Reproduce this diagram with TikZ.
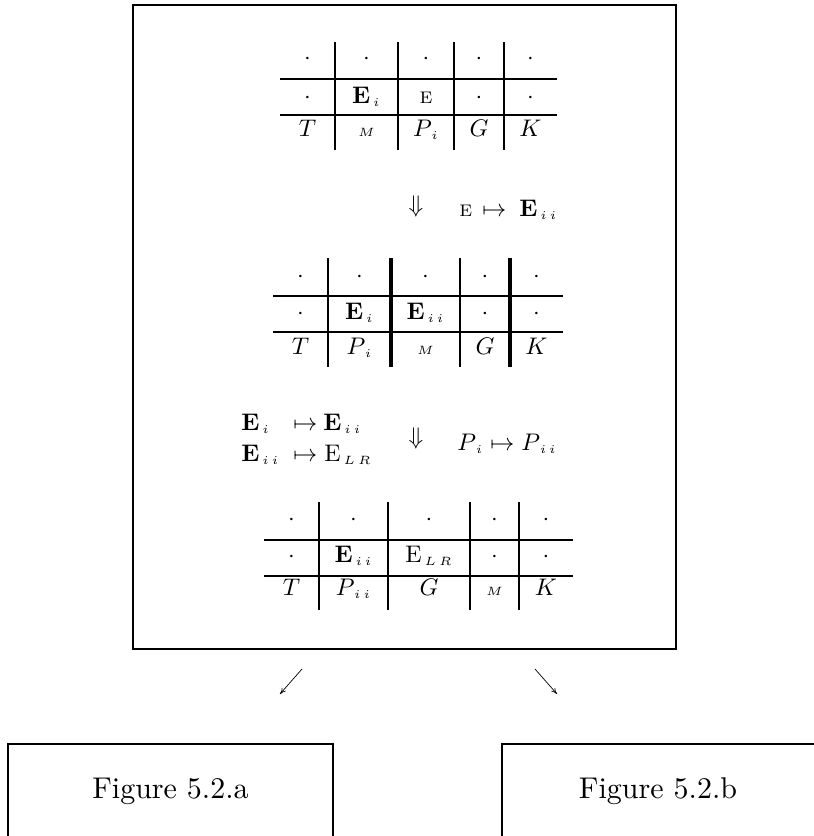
\documentclass[tikz,border=0pt]{standalone}
\usetikzlibrary{arrows.meta}
\newcommand\mysb[1]{_{\kern1.2pt\scriptscriptstyle #1}}
\begin{document}
\begin{tikzpicture}[x=1pt,y=-1pt,
  txt/.style={inner sep=0pt, anchor=base, scale=2.4},
  txtw/.style={inner sep=0pt, anchor=base west, scale=2.4},
  lbl/.style={inner sep=0pt, anchor=base, scale=3.0},
  tline/.style={line width=1.8pt},
  thk/.style={line width=3.4pt},
  boxl/.style={line width=1.8pt},
  arr/.style={line width=0.7pt, -{To[length=6pt,width=5pt]}}]
\useasboundingbox (0,0) rectangle (814,836);
% big frame
\draw[boxl] (133,5) rectangle (676,649);
% ---------- table 1 ----------
\draw[tline] (280,79) -- (557,79) (280,115) -- (557,115);
\foreach \x in {335,398,454,504} \draw[tline] (\x,42) -- (\x,150);
\foreach \x/\n in {307.5/a,366.5/b,426/c,479/d,530.5/e} \node[txt] (t1r1\n) at (\x,64) {$\cdot$};
\node[txt] (t1r2a) at (307.5,103) {$\cdot$};
\node[txt] (t1r2b) at (366.5,103) {$\mathbf{E}\mysb{i}$};
\node[txt] (t1r2c) at (426,103) {$\scriptstyle\mathrm{E}$};
\node[txt] (t1r2d) at (479,103) {$\cdot$};
\node[txt] (t1r2e) at (530.5,103) {$\cdot$};
\node[txt] (t1r3a) at (307.5,136) {$T$};
\node[txt] (t1r3b) at (366.5,136) {$\scriptscriptstyle M$};
\node[txt] (t1r3c) at (426,136) {$P\mysb{i}$};
\node[txt] (t1r3d) at (479,136) {$G$};
\node[txt] (t1r3e) at (530.5,136) {$K$};
% ---------- transition 1 ----------
\node[txt, anchor=center] (dn1) at (416,206) {$\Downarrow$};
\node[txtw] (m1a) at (459,216) {$\scriptstyle\mathrm{E}$};
\node[txtw] (m1b) at (482,216) {$\mapsto$};
\node[txtw] (m1c) at (519,216) {$\mathbf{E}\mysb{i\,i}$};
% ---------- table 2 ----------
\draw[tline] (273,296) -- (563,296) (273,332) -- (563,332);
\foreach \x in {328,460} \draw[tline] (\x,258) -- (\x,367);
\foreach \x in {391,510} \draw[thk] (\x,258) -- (\x,367);
\foreach \x/\n in {300.5/a,359.5/b,425.5/c,485/d,536.5/e} \node[txt] (t2r1\n) at (\x,282) {$\cdot$};
\node[txt] (t2r2a) at (300.5,319) {$\cdot$};
\node[txt] (t2r2b) at (359.5,319) {$\mathbf{E}\mysb{i}$};
\node[txt] (t2r2c) at (425.5,319) {$\mathbf{E}\mysb{i\,i}$};
\node[txt] (t2r2d) at (485,319) {$\cdot$};
\node[txt] (t2r2e) at (536.5,319) {$\cdot$};
\node[txt] (t2r3a) at (300.5,354) {$T$};
\node[txt] (t2r3b) at (359.5,354) {$P\mysb{i}$};
\node[txt] (t2r3c) at (425.5,354) {$\scriptscriptstyle M$};
\node[txt] (t2r3d) at (485,354) {$G$};
\node[txt] (t2r3e) at (536.5,354) {$K$};
% ---------- transition 2 ----------
\node[txtw] (l1a) at (241,430) {$\mathbf{E}\mysb{i}$};
\node[txtw] (l1b) at (293,430) {$\mapsto$};
\node[txtw] (l1c) at (323,430) {$\mathbf{E}\mysb{i\,i}$};
\node[txtw] (l2a) at (241,461) {$\mathbf{E}\mysb{i\,i}$};
\node[txtw] (l2b) at (293,461) {$\mapsto$};
\node[txtw] (l2c) at (324,461) {$\mathrm{E}\mysb{L\,R}$};
\node[txt, anchor=center] (dn2) at (416,438) {$\Downarrow$};
\node[txtw] (r1a) at (457,450) {$P\mysb{i}$};
\node[txtw] (r1b) at (490,450) {$\mapsto$};
\node[txtw] (r1c) at (521,450) {$P\mysb{i\,i}$};
% ---------- table 3 ----------
\draw[tline] (264,540) -- (573,540) (264,576) -- (573,576);
\foreach \x in {319,388,470,519} \draw[tline] (\x,502) -- (\x,610);
\foreach \x/\n in {291.5/a,353.5/b,429/c,494.5/d,546/e} \node[txt] (t3r1\n) at (\x,525) {$\cdot$};
\node[txt] (t3r2a) at (291.5,562) {$\cdot$};
\node[txt] (t3r2b) at (353.5,562) {$\mathbf{E}\mysb{i\,i}$};
\node[txt] (t3r2c) at (429,562) {$\mathrm{E}\mysb{L\,R}$};
\node[txt] (t3r2d) at (494.5,562) {$\cdot$};
\node[txt] (t3r2e) at (546,562) {$\cdot$};
\node[txt] (t3r3a) at (291.5,595) {$T$};
\node[txt] (t3r3b) at (353.5,595) {$P\mysb{i\,i}$};
\node[txt] (t3r3c) at (429,595) {$G$};
\node[txt] (t3r3d) at (494.5,595) {$\scriptscriptstyle M$};
\node[txt] (t3r3e) at (546,595) {$K$};
% ---------- branch arrows ----------
\coordinate (aLs) at (302,669);
\coordinate (aLe) at (280,694);
\coordinate (aRs) at (535,669);
\coordinate (aRe) at (557,694);
\draw[arr] (aLs) -- (aLe);
\draw[arr] (aRs) -- (aRe);
% ---------- bottom boxes ----------
\draw[boxl] (8,850) -- (8,744) -- (333,744) -- (333,850);
\draw[boxl] (502,850) -- (502,744) -- (830,744);
\node[lbl] (figa) at (170.5,798) {Figure 5.2.a};
\node[lbl] (figb) at (658,798) {Figure 5.2.b};
\end{tikzpicture}
\end{document}
